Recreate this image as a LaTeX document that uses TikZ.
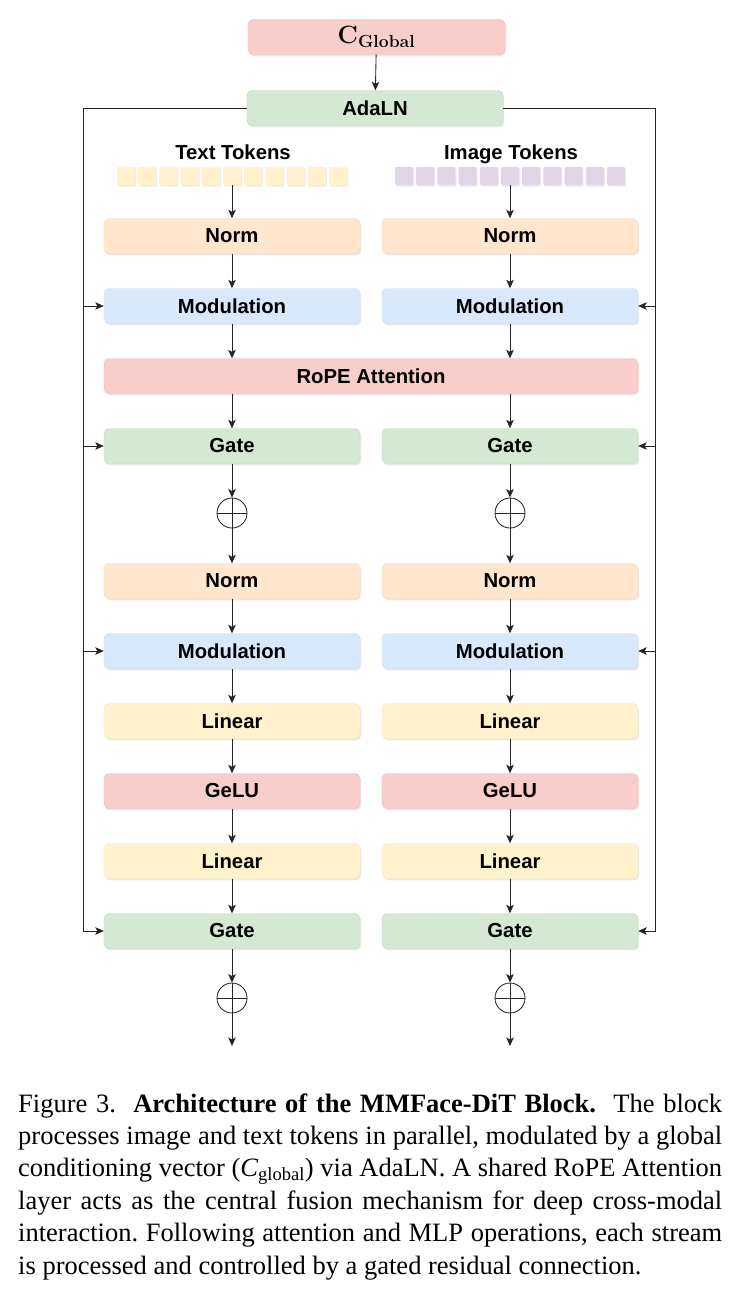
\RequirePackage{fix-cm}
\documentclass[tikz,border=0pt]{standalone}
\usepackage[no-math]{fontspec}
\setmainfont{Liberation Serif}
\newfontfamily\boxfont{Liberation Sans}
\usetikzlibrary{arrows.meta,shadows,calc}
\definecolor{cred}{HTML}{F8CECC}
\definecolor{cgreen}{HTML}{D5E8D4}
\definecolor{corange}{HTML}{FFE6CC}
\definecolor{cblue}{HTML}{DAE8FC}
\definecolor{cyellow}{HTML}{FFF2CC}
\definecolor{cpurple}{HTML}{E1D5E7}
\definecolor{lnc}{HTML}{262626}
\begin{document}
\begin{tikzpicture}[x=1pt,y=-1pt,
  blk/.style={rounded corners=5pt, minimum height=35pt, minimum width=256pt, inner sep=0pt,
    font=\boxfont\bfseries\fontsize{20.3}{24}\selectfont,
    drop shadow={shadow xshift=1.2pt,shadow yshift=-1.8pt,opacity=0.18}},
  redb/.style={blk, fill=cred, draw=cred!92!black, line width=0.4pt},
  greenb/.style={blk, fill=cgreen, draw=cgreen!92!black, line width=0.4pt},
  orangeb/.style={blk, fill=corange, draw=corange!95!black, line width=0.4pt},
  blueb/.style={blk, fill=cblue, draw=cblue!95!black, line width=0.4pt},
  yellowb/.style={blk, fill=cyellow, draw=cyellow!95!black, line width=0.4pt},
  tok/.style={minimum size=18pt, inner sep=0pt, rounded corners=1pt,
    drop shadow={shadow xshift=1pt,shadow yshift=-1.5pt,opacity=0.15}},
  lbl/.style={anchor=base, font=\boxfont\bfseries\fontsize{20.3}{24}\selectfont, inner sep=0pt},
  ln/.style={draw=lnc, line width=0.85pt},
  arr/.style={ln, -{Stealth[length=8.5pt,width=7.5pt,inset=2pt]}},
  plus/.style={circle, draw=lnc, line width=0.85pt, minimum size=30pt, inner sep=0pt,
    path picture={\draw[lnc, line width=0.85pt] (path picture bounding box.north) -- (path picture bounding box.south)
      (path picture bounding box.west) -- (path picture bounding box.east);}},
  captxt/.style={anchor=base west, inner sep=0pt, font=\frenchspacing\fontsize{26.5}{32}\selectfont}
]
\fill[white] (0,0) rectangle (740,1298);
\useasboundingbox (0,0) rectangle (740,1298);

% top
\node[redb, minimum width=257pt] (cg) at (376.5,37) {\fontsize{25}{28}\selectfont$\mathbf{C}_{\mathbf{Global}}$};
\node[greenb] (ada) at (375,108) {AdaLN};

% token labels
\node[lbl] (tlab) at (233,159.5) {Text Tokens};
\node[lbl] (ilab) at (511,159) {Image Tokens};
\foreach \i in {1,...,11} {
  \node[tok, fill=cyellow] (tL\i) at ({126+(\i-1)*21.2},176) {};
  \node[tok, fill=cpurple] (tR\i) at ({404+(\i-1)*21.2},176) {};
}

% left column
\node[orangeb] (nL1) at (232,236) {Norm};
\node[blueb]   (mL1) at (232,306) {Modulation};
\node[greenb]  (gL1) at (232,446) {Gate};
\node[plus]    (pL1) at (232,513) {};
\node[orangeb] (nL2) at (232,581) {Norm};
\node[blueb]   (mL2) at (232,651) {Modulation};
\node[yellowb] (lL1) at (232,721) {Linear};
\node[redb]    (uL)  at (232,791) {GeLU};
\node[yellowb] (lL2) at (232,861) {Linear};
\node[greenb]  (gL2) at (232,931) {Gate};
\node[plus]    (pL2) at (232,998) {};
\coordinate (eL) at (232,1046);

% right column
\node[orangeb] (nR1) at (510,236) {Norm};
\node[blueb]   (mR1) at (510,306) {Modulation};
\node[greenb]  (gR1) at (510,446) {Gate};
\node[plus]    (pR1) at (510,513) {};
\node[orangeb] (nR2) at (510,581) {Norm};
\node[blueb]   (mR2) at (510,651) {Modulation};
\node[yellowb] (lR1) at (510,721) {Linear};
\node[redb]    (uR)  at (510,791) {GeLU};
\node[yellowb] (lR2) at (510,861) {Linear};
\node[greenb]  (gR2) at (510,931) {Gate};
\node[plus]    (pR2) at (510,998) {};
\coordinate (eR) at (510,1046);

% shared attention
\node[redb, minimum width=534pt] (att) at (371,376) {RoPE Attention};

% vertical flow
\draw[arr] (cg) -- (ada);
\foreach \s in {L,R} {
  \draw[arr] (n\s1.north |- t\s6.south) -- (n\s1);
  \draw[arr] (n\s1) -- (m\s1);
  \draw[arr] (m\s1.south) -- (m\s1.south |- att.north);
  \draw[arr] (att.south -| g\s1.north) -- (g\s1.north);
  \draw[arr] (g\s1) -- (p\s1);
  \draw[arr] (p\s1) -- (n\s2);
  \draw[arr] (n\s2) -- (m\s2);
  \draw[arr] (m\s2) -- (l\s1);
  \draw[arr] (l\s1) -- (u\s);
  \draw[arr] (u\s) -- (l\s2);
  \draw[arr] (l\s2) -- (g\s2);
  \draw[arr] (g\s2) -- (p\s2);
  \draw[arr] (p\s2) -- (e\s);
}

% side rails
\coordinate (railL) at (83,108);
\coordinate (railR) at (655,108);
\draw[arr] (ada.west) -- (railL) |- (gL2.west);
\draw[arr] (ada.east) -- (railR) |- (gR2.east);
\foreach \n in {mL1,gL1,mL2} \draw[arr] (railL |- \n.west) -- (\n.west);
\foreach \n in {mR1,gR1,mR2} \draw[arr] (railR |- \n.east) -- (\n.east);

% caption
\node[captxt] (c1) at (18,1112) {\makebox[704pt][s]{Figure 3.\ \ \textbf{Architecture of the MMFace-DiT Block.}\ \ The block}};
\node[captxt] (c2) at (18,1144.4) {\makebox[704pt][s]{processes image and text tokens in parallel, modulated by a global}};
\node[captxt] (c3) at (18,1176.8) {\makebox[704pt][s]{conditioning vector ({\itshape C}\textsubscript{global}) via AdaLN. A shared RoPE Attention}};
\node[captxt] (c4) at (18,1209.2) {\makebox[704pt][s]{layer acts as the central fusion mechanism for deep cross-modal}};
\node[captxt] (c5) at (18,1241.6) {\makebox[704pt][s]{interaction. Following attention and MLP operations, each stream}};
\node[captxt] (c6) at (18,1274) {is processed and controlled by a gated residual connection.};
\end{tikzpicture}
\end{document}
